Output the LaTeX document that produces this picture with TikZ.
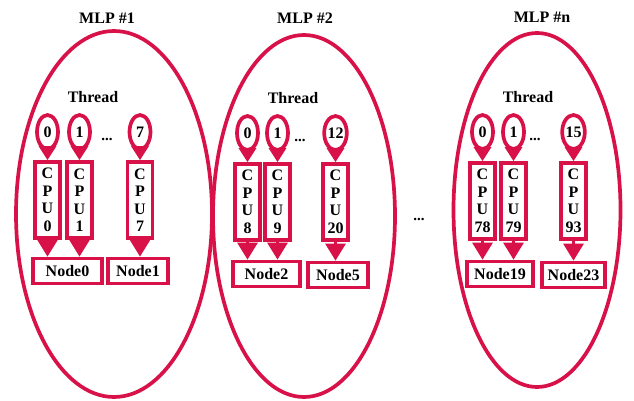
\documentclass[tikz,border=0pt]{standalone}
\usepackage{fontspec}
\setmainfont{Liberation Serif}
\usetikzlibrary{shapes.geometric,arrows.meta}
\definecolor{crim}{RGB}{216,18,72}
\tikzset{
  lw/.style={line width=3.7pt},
  mlp/.style={draw=crim,lw,ellipse,inner sep=0pt},
  thr/.style={draw=crim,lw,ellipse,minimum width=21pt,minimum height=34pt,inner sep=0pt,font=\fontsize{16}{17}\selectfont\bfseries},
  cpu/.style={draw=crim,lw,rectangle,minimum width=25pt,minimum height=76pt,inner sep=0.5pt,align=center,font=\fontsize{16}{17.5}\selectfont\bfseries},
  nbox/.style={draw=crim,lw,rectangle,minimum height=25pt,inner sep=0.5pt,font=\fontsize{16}{17}\selectfont\bfseries},
  lbl/.style={font=\fontsize{16}{17}\selectfont\bfseries},
  dts/.style={font=\fontsize{15}{15}\selectfont\bfseries},
  tarr/.style={draw=crim,line width=3pt,-{Triangle[width=17pt,length=14pt]}},
  carr/.style={draw=crim,line width=3pt,-{Triangle[width=20pt,length=17pt]}}
}
\begin{document}
\begin{tikzpicture}[x=1pt,y=-1pt]
\useasboundingbox (0,0) rectangle (634,401);
% MLP ellipses
\node[mlp,minimum width=196pt,minimum height=366pt] (e1) at (114,214) {};
\node[mlp,minimum width=182pt,minimum height=362pt] (e2) at (304,216) {};
\node[mlp,minimum width=167pt,minimum height=354pt] (e3) at (537,210) {};
\node[lbl] (m1) at (107,18) {MLP \#1};
\node[lbl] (m2) at (305,18) {MLP \#2};
\node[lbl] (m3) at (542,17) {MLP \#n};
\node[lbl] (th1) at (93,97) {Thread};
\node[lbl] (th2) at (293,98) {Thread};
\node[lbl] (th3) at (528,97) {Thread};
% panel 1
\node[thr] (t10) at (47.5,132) {0};
\node[thr] (t11) at (79.5,132) {1};
\node[thr] (t17) at (140,132) {7};
\node[dts] (d1) at (107,139) {...};
\node[cpu] (c10) at (47.5,200) {C\\P\\U\\0};
\node[cpu] (c11) at (79.5,200) {C\\P\\U\\1};
\node[cpu] (c17) at (140,200) {C\\P\\U\\7};
\node[nbox,minimum width=69pt] (n0) at (67.5,271) {Node0};
\node[nbox,minimum width=60pt] (n1) at (138,271) {Node1};
% panel 2
\node[thr] (t20) at (247.5,133) {0};
\node[thr] (t21) at (277.5,133) {1};
\node[thr] (t212) at (335.5,133) {12};
\node[dts] (d2) at (300,140) {...};
\node[cpu] (c20) at (247.5,202) {C\\P\\U\\8};
\node[cpu] (c21) at (277.5,202) {C\\P\\U\\9};
\node[cpu] (c220) at (335.5,202) {C\\P\\U\\20};
\node[nbox,minimum width=67pt] (n2) at (266.5,274) {Node2};
\node[nbox,minimum width=60pt] (n5) at (338,275) {Node5};
% panel 3
\node[thr] (t30) at (482.5,132) {0};
\node[thr] (t31) at (513.5,132) {1};
\node[thr] (t315) at (573.5,132) {15};
\node[dts] (d3) at (535,139) {...};
\node[cpu] (c30) at (482.5,201) {C\\P\\U\\78};
\node[cpu] (c31) at (513.5,201) {C\\P\\U\\79};
\node[cpu] (c393) at (573.5,201) {C\\P\\U\\93};
\node[nbox,minimum width=66pt] (n19) at (500,274) {Node19};
\node[nbox,minimum width=63pt] (n23) at (573.5,275) {Node23};
% middle dots
\node[dts] (dm) at (419,219) {...};
% thread -> cpu
\foreach \a/\b in {t10/c10,t11/c11,t17/c17,t20/c20,t21/c21,t212/c220,t30/c30,t31/c31,t315/c393}
  \draw[tarr] (\a.south) -- (\b.north);
% cpu -> node
\foreach \a/\b in {c10/n0,c11/n0,c17/n1,c20/n2,c21/n2,c220/n5,c30/n19,c31/n19,c393/n23}
  \draw[carr] (\a.south) -- (\a.south |- \b.north);
\end{tikzpicture}
\end{document}
